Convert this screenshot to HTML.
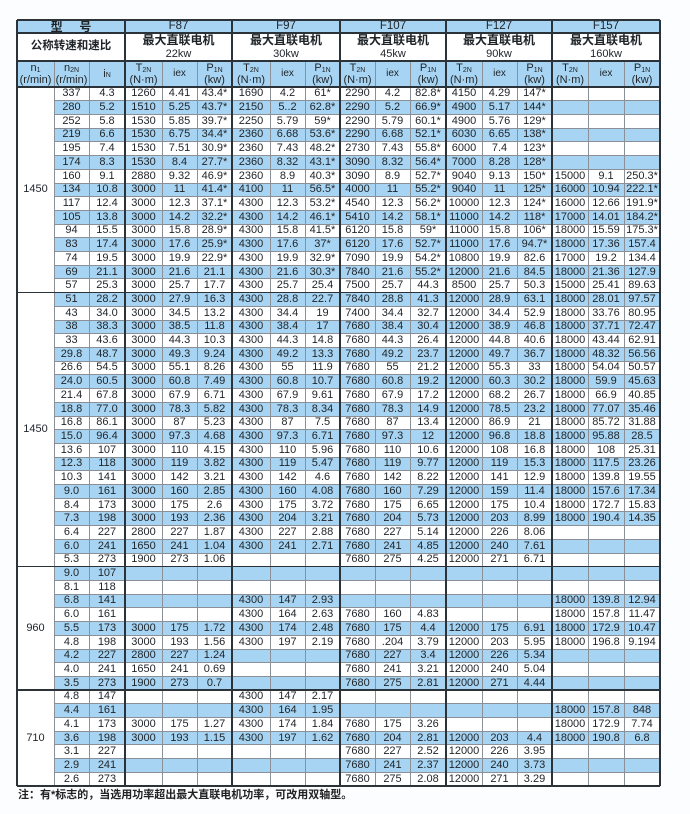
<!DOCTYPE html>
<html><head><meta charset="utf-8">
<style>
html,body{margin:0;padding:0;background:#fbfdff;}
body{width:690px;height:814px;position:relative;overflow:hidden;font-family:"Liberation Sans","Noto Sans CJK SC",sans-serif;color:#1e2328;}
.c{position:absolute;display:flex;align-items:center;justify-content:center;font-size:11px;line-height:1;white-space:nowrap;text-align:center;}
.bg{position:absolute;}
.l{position:absolute;}
sub{font-size:7px;vertical-align:baseline;position:relative;top:1px;}
.note{position:absolute;left:18px;top:786px;font-size:11px;font-weight:bold;color:#222;}
</style></head><body>
<div id="t"></div>
<div class="note">注：有*标志的，当选用功率超出最大直联电机功率，可改用双轴型。</div>
<script>
var X=[17,54,89,125,162,197,232,270,305,340,375,410,446,482,517,552,588,624,660];
var top0=20,H1=33,H2=61,H3=87,BOT=786,N=51,RH=(BOT-H3)/N;
var BLUE="#a7d4f2";
var rows=[
["337","4.3","1260","4.41","43.4*","1690","4.2","61*","2290","4.2","82.8*","4150","4.29","147*","","",""],
["280","5.2","1510","5.25","43.7*","2150","5..2","62.8*","2290","5.2","66.9*","4900","5.17","144*","","",""],
["252","5.8","1530","5.85","39.7*","2250","5.79","59*","2290","5.79","60.1*","4900","5.76","129*","","",""],
["219","6.6","1530","6.75","34.4*","2360","6.68","53.6*","2290","6.68","52.1*","6030","6.65","138*","","",""],
["195","7.4","1530","7.51","30.9*","2360","7.43","48.2*","2730","7.43","55.8*","6000","7.4","123*","","",""],
["174","8.3","1530","8.4","27.7*","2360","8.32","43.1*","3090","8.32","56.4*","7000","8.28","128*","","",""],
["160","9.1","2880","9.32","46.9*","2360","8.9","40.3*","3090","8.9","52.7*","9040","9.13","150*","15000","9.1","250.3*"],
["134","10.8","3000","11","41.4*","4100","11","56.5*","4000","11","55.2*","9040","11","125*","16000","10.94","222.1*"],
["117","12.4","3000","12.3","37.1*","4300","12.3","53.2*","4540","12.3","56.2*","10000","12.3","124*","16000","12.66","191.9*"],
["105","13.8","3000","14.2","32.2*","4300","14.2","46.1*","5410","14.2","58.1*","11000","14.2","118*","17000","14.01","184.2*"],
["94","15.5","3000","15.8","28.9*","4300","15.8","41.5*","6120","15.8","59*","11000","15.8","106*","18000","15.59","175.3*"],
["83","17.4","3000","17.6","25.9*","4300","17.6","37*","6120","17.6","52.7*","11000","17.6","94.7*","18000","17.36","157.4"],
["74","19.5","3000","19.9","22.9*","4300","19.9","32.9*","7090","19.9","54.2*","10800","19.9","82.6","17000","19.2","134.4"],
["69","21.1","3000","21.6","21.1","4300","21.6","30.3*","7840","21.6","55.2*","12000","21.6","84.5","18000","21.36","127.9"],
["57","25.3","3000","25.7","17.7","4300","25.7","25.4","7500","25.7","44.3","8500","25.7","50.3","15000","25.41","89.63"],
["51","28.2","3000","27.9","16.3","4300","28.8","22.7","7840","28.8","41.3","12000","28.9","63.1","18000","28.01","97.57"],
["43","34.0","3000","34.5","13.2","4300","34.4","19","7400","34.4","32.7","12000","34.4","52.9","18000","33.76","80.95"],
["38","38.3","3000","38.5","11.8","4300","38.4","17","7680","38.4","30.4","12000","38.9","46.8","18000","37.71","72.47"],
["33","43.6","3000","44.3","10.3","4300","44.3","14.8","7680","44.3","26.4","12000","44.8","40.6","18000","43.44","62.91"],
["29.8","48.7","3000","49.3","9.24","4300","49.2","13.3","7680","49.2","23.7","12000","49.7","36.7","18000","48.32","56.56"],
["26.6","54.5","3000","55.1","8.26","4300","55","11.9","7680","55","21.2","12000","55.3","33","18000","54.04","50.57"],
["24.0","60.5","3000","60.8","7.49","4300","60.8","10.7","7680","60.8","19.2","12000","60.3","30.2","18000","59.9","45.63"],
["21.4","67.8","3000","67.9","6.71","4300","67.9","9.61","7680","67.9","17.2","12000","68.2","26.7","18000","66.9","40.85"],
["18.8","77.0","3000","78.3","5.82","4300","78.3","8.34","7680","78.3","14.9","12000","78.5","23.2","18000","77.07","35.46"],
["16.8","86.1","3000","87","5.23","4300","87","7.5","7680","87","13.4","12000","86.9","21","18000","85.72","31.88"],
["15.0","96.4","3000","97.3","4.68","4300","97.3","6.71","7680","97.3","12","12000","96.8","18.8","18000","95.88","28.5"],
["13.6","107","3000","110","4.15","4300","110","5.96","7680","110","10.6","12000","108","16.8","18000","108","25.31"],
["12.3","118","3000","119","3.82","4300","119","5.47","7680","119","9.77","12000","119","15.3","18000","117.5","23.26"],
["10.3","141","3000","142","3.21","4300","142","4.6","7680","142","8.22","12000","141","12.9","18000","139.8","19.55"],
["9.0","161","3000","160","2.85","4300","160","4.08","7680","160","7.29","12000","159","11.4","18000","157.6","17.34"],
["8.4","173","3000","175","2.6","4300","175","3.72","7680","175","6.65","12000","175","10.4","18000","172.7","15.83"],
["7.3","198","3000","193","2.36","4300","204","3.21","7680","204","5.73","12000","203","8.99","18000","190.4","14.35"],
["6.4","227","2800","227","1.87","4300","227","2.88","7680","227","5.14","12000","226","8.06","","",""],
["6.0","241","1650","241","1.04","4300","241","2.71","7680","241","4.85","12000","240","7.61","","",""],
["5.3","273","1900","273","1.06","","","","7680","275","4.25","12000","271","6.71","","",""],
["9.0","107","","","","","","","","","","","","","","",""],
["8.1","118","","","","","","","","","","","","","","",""],
["6.8","141","","","","4300","147","2.93","","","","","","","18000","139.8","12.94"],
["6.0","161","","","","4300","164","2.63","7680","160","4.83","","","","18000","157.8","11.47"],
["5.5","173","3000","175","1.72","4300","174","2.48","7680","175","4.4","12000","175","6.91","18000","172.9","10.47"],
["4.8","198","3000","193","1.56","4300","197","2.19","7680",".204","3.79","12000","203","5.95","18000","196.8","9.194"],
["4.2","227","2800","227","1.24","","","","7680","227","3.4","12000","226","5.34","","",""],
["4.0","241","1650","241","0.69","","","","7680","241","3.21","12000","240","5.04","","",""],
["3.5","273","1900","273","0.7","","","","7680","275","2.81","12000","271","4.44","","",""],
["4.8","147","","","","4300","147","2.17","","","","","","","","",""],
["4.4","161","","","","4300","164","1.95","","","","","","","18000","157.8","848"],
["4.1","173","3000","175","1.27","4300","174","1.84","7680","175","3.26","","","","18000","172.9","7.74"],
["3.6","198","3000","193","1.15","4300","197","1.62","7680","204","2.81","12000","203","4.4","18000","190.8","6.8"],
["3.1","227","","","","","","","7680","227","2.52","12000","226","3.95","","",""],
["2.9","241","","","","","","","7680","241","2.37","12000","240","3.73","","",""],
["2.6","273","","","","","","","7680","275","2.08","12000","271","3.29","","",""]
];
var h="";
function cell(x1,y1,x2,y2,txt,extra){h+='<div class="c" style="left:'+x1+'px;top:'+y1+'px;width:'+(x2-x1)+'px;height:'+(y2-y1)+'px;'+(extra||'')+'">'+txt+'</div>';}
function bg(x1,y1,x2,y2,c){h+='<div class="bg" style="left:'+x1+'px;top:'+y1+'px;width:'+(x2-x1)+'px;height:'+(y2-y1)+'px;background:'+c+'"></div>';}
function vl(x,y1,y2,w,c){h+='<div class="l" style="left:'+(x-w/2)+'px;top:'+y1+'px;width:'+w+'px;height:'+(y2-y1)+'px;background:'+c+'"></div>';}
function hl(y,x1,x2,w,c){h+='<div class="l" style="left:'+x1+'px;top:'+(y-w/2)+'px;width:'+(x2-x1)+'px;height:'+w+'px;background:'+c+'"></div>';}
bg(X[0],top0,X[18],BOT,"#fff");
bg(X[0],top0,X[18],H1,BLUE);
bg(X[0],H2,X[18],H3,BLUE);
for(var i=0;i<N;i++){if(i%2==1)bg(X[1],H3+i*RH,X[18],H3+(i+1)*RH,BLUE);}
cell(X[0],top0,X[3],H1,"型&nbsp;&nbsp;&nbsp;&nbsp;&nbsp;号","font-weight:bold;font-size:12px;");
var models=["F87","F97","F107","F127","F157"],kw=["22kw","30kw","45kw","90kw","160kw"];
for(var m=0;m<5;m++){var a=X[3+m*3],b=X[6+m*3];
cell(a,top0,b,H1,models[m],"font-size:11.5px;");
cell(a,H1,b,H2,'<div><div style="font-weight:bold;font-size:12px;margin-bottom:3px">最大直联电机</div><div style="font-size:11px">'+kw[m]+'</div></div>');
cell(X[3+m*3],H2,X[4+m*3],H3,'<div>T<sub>2N</sub><br>(N·m)</div>',"line-height:1.1;");
cell(X[4+m*3],H2,X[5+m*3],H3,'iex',"font-size:10px;");
cell(X[5+m*3],H2,X[6+m*3],H3,'<div>P<sub>1N</sub><br>(kw)</div>',"line-height:1.1;");}
cell(X[0],H1,X[3],H2,"公称转速和速比","font-weight:bold;font-size:11.5px;");
cell(X[0],H2,X[1],H3,'<div>n<sub>1</sub><br>(r/min)</div>',"line-height:1.1;");
cell(X[1],H2,X[2],H3,'<div>n<sub>2N</sub><br>(r/min)</div>',"line-height:1.1;");
cell(X[2],H2,X[3],H3,'i<sub>N</sub>');
for(var i=0;i<N;i++){var r=rows[i],y1=H3+i*RH,y2=y1+RH;
for(var j=0;j<17;j++){if(r[j])cell(X[j+1],y1,X[j+2],y2,r[j]);}}
var groups=[[0,15,"1450"],[15,35,"1450"],[35,44,"960"],[44,51,"710"]];
groups.forEach(function(g){cell(X[0],H3+g[0]*RH,X[1],H3+g[1]*RH,g[2]);});
var thin="#8a9096";
for(var i=1;i<N;i++){hl(H3+i*RH,X[1],X[18],0.8,thin);}
for(var j=1;j<18;j++){ if([3,6,9,12,15].indexOf(j)>=0)continue; vl(X[j],H2,BOT,0.8,thin);}
var dk="#2c3338";
hl(H1,X[0],X[18],1.2,dk);hl(H2,X[0],X[18],1.2,dk);hl(H3,X[0],X[18],1.4,dk);
[15,35,44].forEach(function(k){hl(H3+k*RH,X[0],X[18],1.4,dk);});
[3,6,9,12,15].forEach(function(j){vl(X[j],top0,BOT,1.5,dk);});
vl(X[0],top0,BOT,1.6,dk);vl(X[18],top0,BOT,1.6,dk);hl(top0,X[0],X[18],1.6,dk);hl(BOT,X[0],X[18],1.6,dk);
document.getElementById("t").innerHTML=h;
</script>
</body></html>
